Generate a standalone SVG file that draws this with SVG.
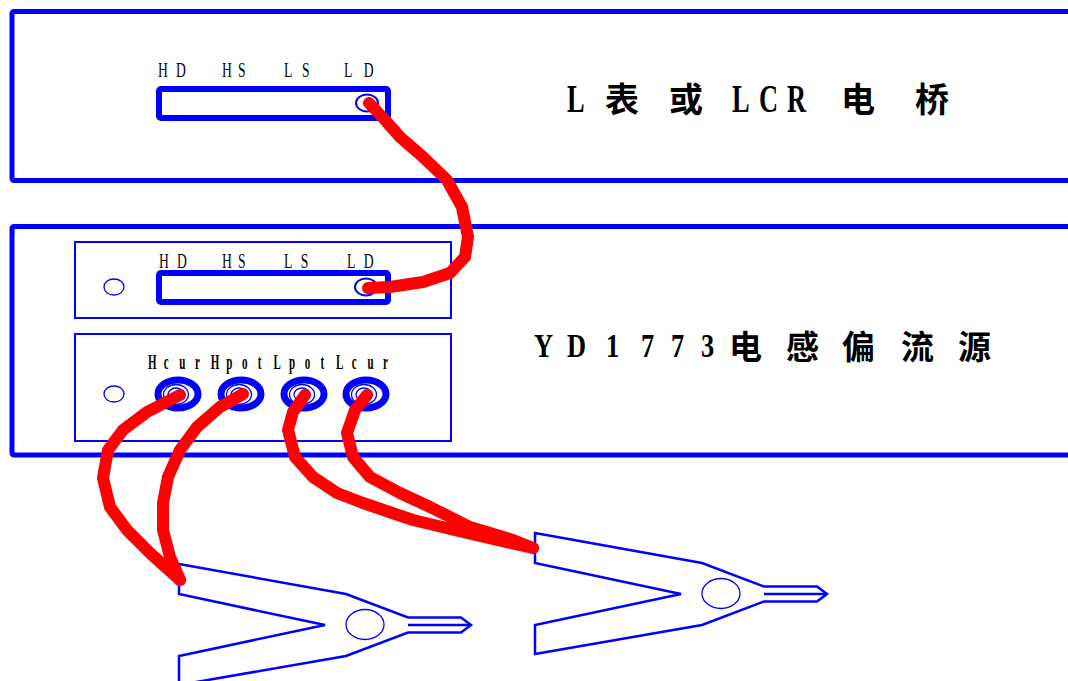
<svg xmlns="http://www.w3.org/2000/svg" width="1068" height="681" viewBox="0 0 1068 681">
  <style>
    .panel { fill: none; stroke: #0000ff; stroke-width: 5; stroke-linejoin: round; }
    .sub { fill: none; stroke: #0000ff; stroke-width: 2; }
    .strip { fill: none; stroke: #0000ff; stroke-width: 6; stroke-linejoin: round; }
    .hole { fill: none; stroke: #0000ff; stroke-width: 2; }
    .thin { fill: none; stroke: #0000ff; stroke-width: 1.3; }
    .ring { fill: none; stroke: #0000ff; stroke-width: 7; }
    .port { font-family: "Liberation Serif", serif; font-size: 22px; fill: #000; }
    .jacklbl { font-family: "Liberation Serif", serif; font-size: 20px; font-weight: bold; fill: #000; }
    .latin { font-family: "Liberation Serif", serif; font-weight: bold; fill: #000; }
    .cjk { font-family: "Noto Sans CJK SC", sans-serif; font-weight: bold; fill: #000; }
    .clipline { fill: none; stroke: #0000ff; stroke-width: 2.5; stroke-linejoin: miter; }
    .cable { fill: none; stroke: #ff0000; stroke-width: 12; stroke-linecap: round; stroke-linejoin: round; }
  </style>
  <defs>
    <!-- alligator test clip, origin at the upper jaw's outer corner -->
    <g id="testclip">
      <polygon class="clipline" points="0,0 167,30 229,53.5 282,53.5 292,61 282,68.5 229,68.5 167,92 0,121 0,92 146,61 0,30"/>
      <line class="clipline" x1="229" y1="61" x2="292" y2="61"/>
      <ellipse class="thin" cx="186" cy="60.5" rx="19" ry="15"/>
    </g>
  </defs>

  <rect width="1068" height="681" fill="#ffffff"/>

  <!-- meter: L meter or LCR bridge -->
  <g id="lcr-meter">
    <rect class="panel" x="12" y="11.5" width="1080" height="169" rx="2"/>
    <rect class="strip" x="159" y="89" width="229" height="29" rx="2"/>
    <ellipse class="hole" cx="367" cy="103" rx="11" ry="8.5"/>
    <text class="port" transform="translate(158 77) scale(0.62 1)" x="0 29">HD</text>
    <text class="port" transform="translate(222 77) scale(0.62 1)" x="0 26">HS</text>
    <text class="port" transform="translate(284 77) scale(0.62 1)" x="0 29">LS</text>
    <text class="port" transform="translate(344 77) scale(0.62 1)" x="0 32">LD</text>
    <text class="latin" font-size="40" transform="translate(567 112) scale(0.66 1)">L</text>
    <text class="cjk" font-size="34" x="605" y="112">表</text>
    <text class="cjk" font-size="34" x="669" y="112">或</text>
    <text class="latin" font-size="40" transform="translate(732 112) scale(0.66 1)">L</text>
    <text class="latin" font-size="40" transform="translate(759 112) scale(0.66 1)">C</text>
    <text class="latin" font-size="40" transform="translate(787 112) scale(0.66 1)">R</text>
    <text class="cjk" font-size="34" x="841" y="112">电</text>
    <text class="cjk" font-size="34" x="915" y="112">桥</text>
  </g>

  <!-- YD1773 inductance bias current source -->
  <g id="bias-source">
    <rect class="panel" x="12" y="226.5" width="1080" height="228.5" rx="2"/>
    <rect class="sub" x="75" y="242" width="376" height="76"/>
    <rect class="sub" x="75" y="334" width="376" height="107"/>
    <ellipse class="thin" cx="114" cy="287" rx="10" ry="8"/>
    <ellipse class="thin" cx="114" cy="394" rx="10" ry="8"/>
    <rect class="strip" x="159" y="273" width="229" height="29" rx="2"/>
    <ellipse class="hole" cx="366" cy="287" rx="11" ry="8.5"/>
    <text class="port" transform="translate(159 268) scale(0.62 1)" x="0 29">HD</text>
    <text class="port" transform="translate(222 268) scale(0.62 1)" x="0 26">HS</text>
    <text class="port" transform="translate(284 268) scale(0.62 1)" x="0 27">LS</text>
    <text class="port" transform="translate(347 268) scale(0.62 1)" x="0 27">LD</text>

    <text class="jacklbl" transform="translate(148 369) scale(0.55 1)" x="0 28.5 57 85.5 114 142.5 171 199.5 228 256.5 285 313.5 342 370.5 399 427.5">HcurHpotLpotLcur</text>

    <g id="jack-hcur">
      <ellipse class="ring" cx="178" cy="394" rx="20" ry="14"/>
      <ellipse class="thin" cx="176" cy="394.5" rx="12.5" ry="10"/>
      <ellipse class="thin" cx="176" cy="394.5" rx="8" ry="6.5"/>
    </g>
    <g id="jack-hpot">
      <ellipse class="ring" cx="241" cy="394" rx="20" ry="14"/>
      <ellipse class="thin" cx="239" cy="394.5" rx="12.5" ry="10"/>
      <ellipse class="thin" cx="239" cy="394.5" rx="8" ry="6.5"/>
    </g>
    <g id="jack-lpot">
      <ellipse class="ring" cx="304" cy="394" rx="20" ry="14"/>
      <ellipse class="thin" cx="302" cy="394.5" rx="12.5" ry="10"/>
      <ellipse class="thin" cx="302" cy="394.5" rx="8" ry="6.5"/>
    </g>
    <g id="jack-lcur">
      <ellipse class="ring" cx="366" cy="394" rx="20" ry="14"/>
      <ellipse class="thin" cx="364" cy="394.5" rx="12.5" ry="10"/>
      <ellipse class="thin" cx="364" cy="394.5" rx="8" ry="6.5"/>
    </g>

    <text class="latin" font-size="33" transform="translate(534 357) scale(0.8 1)">Y</text>
    <text class="latin" font-size="33" transform="translate(567 357) scale(0.8 1)">D</text>
    <text class="latin" font-size="33" transform="translate(606 357) scale(0.8 1)">1</text>
    <text class="latin" font-size="33" transform="translate(641 357) scale(0.8 1)">7</text>
    <text class="latin" font-size="33" transform="translate(671 357) scale(0.8 1)">7</text>
    <text class="latin" font-size="33" transform="translate(701 357) scale(0.8 1)">3</text>
    <text class="cjk" font-size="33" x="729" y="359">电</text>
    <text class="cjk" font-size="33" x="786" y="359">感</text>
    <text class="cjk" font-size="33" x="842" y="359">偏</text>
    <text class="cjk" font-size="33" x="901" y="359">流</text>
    <text class="cjk" font-size="33" x="958" y="359">源</text>
  </g>

  <!-- test clips -->
  <g id="clip-high">
    <use href="#testclip" transform="translate(179 564)"/>
  </g>
  <g id="clip-low">
    <use href="#testclip" transform="translate(535 533)"/>
  </g>

  <!-- test leads -->
  <g id="leads">
    <path class="cable" d="M369,103 L385,120 400,137 423,157 447,180 462,207 468,237 465,257 450,273 423,282 390,287 368,288"/>
    <path class="cable" d="M180,395 L147,412 123,430 108,450 103,478 110,507 127,530 150,553 180,580"/>
    <path class="cable" d="M243,394 L220,407 197,427 180,450 168,477 163,503 163,530 170,557 180,580"/>
    <path class="cable" d="M305,395 L293,412 288,430 295,457 313,477 337,493 363,503 413,520 463,532 533,548"/>
    <path class="cable" d="M367,395 L355,410 347,433 353,457 370,477 400,493 430,507 470,527 513,540 533,548"/>
  </g>
</svg>
